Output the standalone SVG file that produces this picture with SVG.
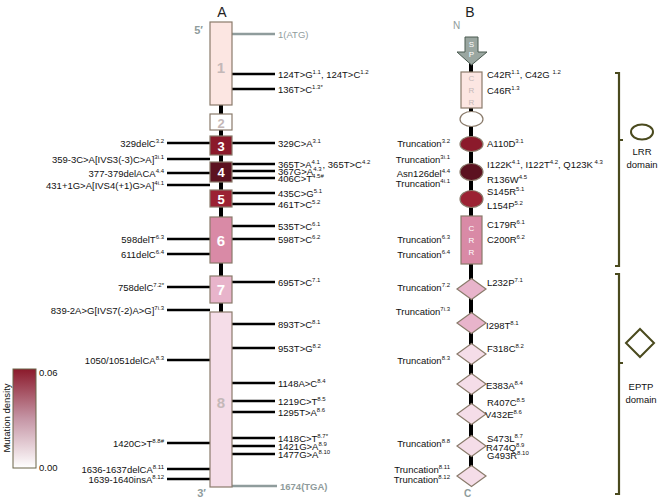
<svg xmlns="http://www.w3.org/2000/svg" width="660" height="498" viewBox="0 0 660 498">
<defs>
<linearGradient id="dens" x1="0" y1="0" x2="0" y2="1">
<stop offset="0" stop-color="#8b1a2b"/>
<stop offset="0.5" stop-color="#c595a5"/>
<stop offset="1" stop-color="#ffffff"/>
</linearGradient>
</defs>
<style>
text{font-family:"Liberation Sans",Arial,sans-serif}
.t{font-size:9.5px;fill:#111}
.s{font-size:6px}
.e{text-anchor:end}
.m{text-anchor:middle}
.g{fill:#8f9c9c}
.ln{stroke:#000;stroke-width:2.5;fill:none}
.gl{stroke:#8f9c9c;stroke-width:2.5;fill:none}
.sp{stroke:#000;stroke-width:4;fill:none}
.ex{stroke:#8a7b6b;stroke-width:1.2}
.num{font-size:15px;font-weight:bold;text-anchor:middle}
.w{fill:#fff}
.gn{fill:#c4b8b8}
.br{stroke:#4a4a1e;stroke-width:2.2;fill:none}
.hd{font-size:14px;fill:#222;text-anchor:middle}
</style>

<text class="hd" x="222" y="17">A</text>
<text class="hd" x="470" y="17">B</text>

<g id="connectors">
<line class="sp" x1="221" y1="24" x2="221" y2="486"/>
<line class="sp" x1="471" y1="60" x2="471" y2="472"/>
<line class="gl" x1="232" y1="34" x2="275" y2="34"/>
<line class="gl" x1="232" y1="486" x2="277" y2="486"/>
<g class="ln">
<line x1="232" y1="74" x2="275" y2="74"/>
<line x1="232" y1="89" x2="275" y2="89"/>
<line x1="232" y1="143" x2="275" y2="143"/>
<line x1="232" y1="164" x2="275" y2="164"/>
<line x1="232" y1="171" x2="275" y2="171"/>
<line x1="232" y1="178" x2="275" y2="178"/>
<line x1="232" y1="193" x2="275" y2="193"/>
<line x1="232" y1="204" x2="275" y2="204"/>
<line x1="232" y1="226" x2="275" y2="226"/>
<line x1="232" y1="239" x2="275" y2="239"/>
<line x1="232" y1="282" x2="275" y2="282"/>
<line x1="232" y1="324" x2="275" y2="324"/>
<line x1="232" y1="348" x2="275" y2="348"/>
<line x1="232" y1="383" x2="275" y2="383"/>
<line x1="232" y1="401" x2="275" y2="401"/>
<line x1="232" y1="412" x2="275" y2="412"/>
<line x1="232" y1="438" x2="275" y2="438"/>
<line x1="232" y1="446" x2="275" y2="446"/>
<line x1="232" y1="454" x2="275" y2="454"/>
<line x1="167" y1="143" x2="210" y2="143"/>
<line x1="167" y1="159" x2="210" y2="159"/>
<line x1="167" y1="173" x2="210" y2="173"/>
<line x1="167" y1="185" x2="210" y2="185"/>
<line x1="167" y1="239" x2="210" y2="239"/>
<line x1="167" y1="254" x2="210" y2="254"/>
<line x1="167" y1="287" x2="210" y2="287"/>
<line x1="167" y1="310" x2="210" y2="310"/>
<line x1="167" y1="360" x2="210" y2="360"/>
<line x1="167" y1="443" x2="210" y2="443"/>
<line x1="167" y1="469" x2="210" y2="469"/>
<line x1="167" y1="479" x2="210" y2="479"/>
</g>
</g>

<!-- Panel A exons -->
<text class="t g" x="203" y="34" style="font-size:11px;font-weight:bold" text-anchor="end">5′</text>
<text class="t g" x="206" y="497" style="font-size:11px;font-weight:bold" text-anchor="end">3′</text>
<g id="exon1"><rect class="ex" x="210" y="22" width="22" height="83" fill="#fce6e2"/><text class="num gn" x="221" y="73">1</text></g>
<g id="exon2"><rect class="ex" x="210" y="114" width="22" height="16" fill="#fff"/><text class="num gn" x="221" y="128" style="font-size:13px">2</text></g>
<g id="exon3"><rect class="ex" x="210" y="136" width="22" height="19" fill="#8b1a2b"/><text class="num w" x="221" y="151" style="font-size:13px">3</text></g>
<g id="exon4"><rect class="ex" x="210" y="162" width="22" height="20" fill="#5c1220"/><text class="num w" x="221" y="177" style="font-size:13px">4</text></g>
<g id="exon5"><rect class="ex" x="210" y="190" width="22" height="17" fill="#9b2233"/><text class="num w" x="221" y="204" style="font-size:13px">5</text></g>
<g id="exon6"><rect class="ex" x="210" y="217" width="22" height="46" fill="#d98aa6"/><text class="num w" x="221" y="246">6</text></g>
<g id="exon7"><rect class="ex" x="210" y="276" width="22" height="27" fill="#e8b4cb"/><text class="num w" x="221" y="295">7</text></g>
<g id="exon8"><rect class="ex" x="210" y="312" width="22" height="175" fill="#f5dde8"/><text class="num gn" x="221" y="408">8</text></g>

<!-- Panel A labels right -->
<g id="labelsA-right" class="t">
<text class="g" x="278" y="38">1(ATG)</text>
<text x="278" y="77.5">124T&gt;G<tspan class="s" dy="-4">1.1</tspan><tspan dy="4">, 124T&gt;C</tspan><tspan class="s" dy="-4">1.2</tspan></text>
<text x="278" y="92.5">136T&gt;C<tspan class="s" dy="-4">1.3*</tspan></text>
<text x="278" y="146.5">329C&gt;A<tspan class="s" dy="-4">3.1</tspan></text>
<text x="278" y="167.5">365T&gt;A<tspan class="s" dy="-4">4.1</tspan><tspan dy="4"> , 365T&gt;C</tspan><tspan class="s" dy="-4">4.2</tspan></text>
<text x="278" y="174.5">367G&gt;A<tspan class="s" dy="-4">4.3</tspan></text>
<text x="278" y="181.5">406C&gt;T<tspan class="s" dy="-4">4.5#</tspan></text>
<text x="278" y="196.5">435C&gt;G<tspan class="s" dy="-4">5.1</tspan></text>
<text x="278" y="207.5">461T&gt;C<tspan class="s" dy="-4">5.2</tspan></text>
<text x="278" y="229.5">535T&gt;C<tspan class="s" dy="-4">6.1</tspan></text>
<text x="278" y="242.5">598T&gt;C<tspan class="s" dy="-4">6.2</tspan></text>
<text x="278" y="285.5">695T&gt;C<tspan class="s" dy="-4">7.1</tspan></text>
<text x="278" y="327.5">893T&gt;C<tspan class="s" dy="-4">8.1</tspan></text>
<text x="278" y="351.5">953T&gt;G<tspan class="s" dy="-4">8.2</tspan></text>
<text x="278" y="386.5">1148A&gt;C<tspan class="s" dy="-4">8.4</tspan></text>
<text x="278" y="404.5">1219C&gt;T<tspan class="s" dy="-4">8.5</tspan></text>
<text x="278" y="415.5">1295T&gt;A<tspan class="s" dy="-4">8.6</tspan></text>
<text x="278" y="441.5">1418C&gt;T<tspan class="s" dy="-4">8.7*</tspan></text>
<text x="278" y="449.5">1421G&gt;A<tspan class="s" dy="-4">8.9</tspan></text>
<text x="278" y="457.5">1477G&gt;A<tspan class="s" dy="-4">8.10</tspan></text>
<text class="g" x="280" y="490" style="font-weight:bold">1674(TGA)</text>
</g>

<!-- Panel A labels left -->
<g id="labelsA-left" class="t e">
<text x="164" y="146.5">329delC<tspan class="s" dy="-4">3.2</tspan></text>
<text x="164" y="162.5">359-3C&gt;A[IVS3(-3)C&gt;A]<tspan class="s" dy="-4">3i.1</tspan></text>
<text x="164" y="176.5">377-379delACA<tspan class="s" dy="-4">4.4</tspan></text>
<text x="164" y="188.5">431+1G&gt;A[IVS4(+1)G&gt;A]<tspan class="s" dy="-4">4i.1</tspan></text>
<text x="164" y="242.5">598delT<tspan class="s" dy="-4">6.3</tspan></text>
<text x="164" y="257.5">611delC<tspan class="s" dy="-4">6.4</tspan></text>
<text x="164" y="290.5">758delC<tspan class="s" dy="-4">7.2*</tspan></text>
<text x="164" y="313.5">839-2A&gt;G[IVS7(-2)A&gt;G]<tspan class="s" dy="-4">7i.3</tspan></text>
<text x="164" y="363.5">1050/1051delCA<tspan class="s" dy="-4">8.3</tspan></text>
<text x="164" y="446.5">1420C&gt;T<tspan class="s" dy="-4">8.8#</tspan></text>
<text x="164" y="472.5">1636-1637delCA<tspan class="s" dy="-4">8.11</tspan></text>
<text x="164" y="482.5">1639-1640insA<tspan class="s" dy="-4">8.12</tspan></text>
</g>

<!-- Color bar -->
<g id="colorbar">
<rect x="13" y="369" width="23" height="99" fill="url(#dens)" stroke="#6b6548" stroke-width="1"/>
<text class="t" x="39" y="376">0.06</text>
<text class="t" x="39" y="471">0.00</text>
<text class="t m" transform="translate(10,418) rotate(-90)">Mutation density</text>
</g>

<!-- Panel B -->
<text class="t g" x="453" y="29" style="font-size:10px">N</text>
<text class="t g" x="464" y="497" style="font-size:10px;font-weight:bold">C</text>
<g id="sp"><path d="M465,37 H478 V52 H487 L471.5,65 L457,52 H465 Z" fill="#9aa6a0" stroke="#4a5a50" stroke-width="1"/><text class="w m" x="471.5" y="47" style="font-size:8px">S</text><text class="w m" x="471.5" y="57" style="font-size:8px">P</text></g>
<g id="crr1"><rect class="ex" x="461" y="72" width="21" height="36" fill="#fce6e2"/><text class="m gn" x="471.5" y="81" style="font-size:8px">C</text><text class="m gn" x="471.5" y="93" style="font-size:8px">R</text><text class="m gn" x="471.5" y="105" style="font-size:8px">R</text></g>
<g id="lrr0"><ellipse class="ex" cx="471.5" cy="119" rx="11.5" ry="7.5" fill="#fff"/></g>
<g id="lrr1"><ellipse class="ex" cx="471.5" cy="144" rx="11.5" ry="7.5" fill="#8b1a2b"/></g>
<g id="lrr2"><ellipse class="ex" cx="471.5" cy="172" rx="11.5" ry="8.5" fill="#5c1220"/></g>
<g id="lrr3"><ellipse class="ex" cx="471.5" cy="199" rx="11.5" ry="8.5" fill="#9b2233"/></g>
<g id="crr2"><rect class="ex" x="461" y="216" width="21" height="48" fill="#d98aa6"/><text class="m w" x="471.5" y="231" style="font-size:8px">C</text><text class="m w" x="471.5" y="243" style="font-size:8px">R</text><text class="m w" x="471.5" y="255" style="font-size:8px">R</text></g>
<g id="eptp1"><path class="ex" d="M457,289 L471.5,278.5 L486,289 L471.5,299.5 Z" fill="#e8b4cb"/></g>
<g id="eptp2"><path class="ex" d="M457,323 L471.5,312.5 L486,323 L471.5,333.5 Z" fill="#e8b4cb"/></g>
<g id="eptp3"><path class="ex" d="M457,354 L471.5,343.5 L486,354 L471.5,364.5 Z" fill="#f5dde8"/></g>
<g id="eptp4"><path class="ex" d="M457,384 L471.5,373.5 L486,384 L471.5,394.5 Z" fill="#f5dde8"/></g>
<g id="eptp5"><path class="ex" d="M457,414 L471.5,403.5 L486,414 L471.5,424.5 Z" fill="#f5dde8"/></g>
<g id="eptp6"><path class="ex" d="M457,446 L471.5,435.5 L486,446 L471.5,456.5 Z" fill="#f5dde8"/></g>
<g id="eptp7"><path class="ex" d="M457,476 L471.5,465.5 L486,476 L471.5,486.5 Z" fill="#f5dde8"/></g>

<g id="labelsB-right" class="t">
<text x="487" y="77.5">C42R<tspan class="s" dy="-4">1.1</tspan><tspan dy="4">, C42G </tspan><tspan class="s" dy="-4">1.2</tspan></text>
<text x="487" y="93.5">C46R<tspan class="s" dy="-4">1.3</tspan></text>
<text x="487" y="146.5">A110D<tspan class="s" dy="-4">3.1</tspan></text>
<text x="487" y="167.5">I122K<tspan class="s" dy="-4">4.1</tspan><tspan dy="4">, I122T</tspan><tspan class="s" dy="-4">4.2</tspan><tspan dy="4">, Q123K</tspan><tspan class="s" dy="-4"> 4.3</tspan></text>
<text x="487" y="182.5">R136W<tspan class="s" dy="-4">4.5</tspan></text>
<text x="487" y="194.5">S145R<tspan class="s" dy="-4">5.1</tspan></text>
<text x="487" y="208.5">L154P<tspan class="s" dy="-4">5.2</tspan></text>
<text x="487" y="227.5">C179R<tspan class="s" dy="-4">6.1</tspan></text>
<text x="487" y="242.5">C200R<tspan class="s" dy="-4">6.2</tspan></text>
<text x="487" y="285.5">L232P<tspan class="s" dy="-4">7.1</tspan></text>
<text x="486" y="328.5">I298T<tspan class="s" dy="-4">8.1</tspan></text>
<text x="487" y="351.5">F318C<tspan class="s" dy="-4">8.2</tspan></text>
<text x="486" y="388.5">E383A<tspan class="s" dy="-4">8.4</tspan></text>
<text x="487" y="405.5">R407C<tspan class="s" dy="-4">8.5</tspan></text>
<text x="485" y="417.5">V432E<tspan class="s" dy="-4">8.6</tspan></text>
<text x="487" y="441.5">S473L<tspan class="s" dy="-4">8.7</tspan></text>
<text x="486" y="450.5">R474Q<tspan class="s" dy="-4">8.9</tspan></text>
<text x="487" y="458.5">G493R<tspan class="s" dy="-4">8.10</tspan></text>
</g>

<g id="labelsB-left" class="t e">
<text x="450" y="146.5">Truncation<tspan class="s" dy="-4">3.2</tspan></text>
<text x="450" y="162.5">Truncation<tspan class="s" dy="-4">3i.1</tspan></text>
<text x="450" y="176.5">Asn126del<tspan class="s" dy="-4">4.4</tspan></text>
<text x="450" y="186.5">Truncation<tspan class="s" dy="-4">4i.1</tspan></text>
<text x="450" y="242.5">Truncation<tspan class="s" dy="-4">6.3</tspan></text>
<text x="450" y="257.5">Truncation<tspan class="s" dy="-4">6.4</tspan></text>
<text x="450" y="290.5">Truncation<tspan class="s" dy="-4">7.2</tspan></text>
<text x="450" y="314.5">Truncation<tspan class="s" dy="-4">7i.3</tspan></text>
<text x="450" y="363.5">Truncation<tspan class="s" dy="-4">8.3</tspan></text>
<text x="450" y="446.5">Truncation<tspan class="s" dy="-4">8.8</tspan></text>
<text x="450" y="472.5">Truncation<tspan class="s" dy="-4">8.11</tspan></text>
<text x="450" y="482.5">Truncation<tspan class="s" dy="-4">8.12</tspan></text>
</g>

<g id="lrr-domain">
<path class="br" d="M615,73 H619 V266 H615 M619,140 H623"/>
<ellipse cx="642" cy="132" rx="11" ry="7.5" fill="#fff" stroke="#4a4a1e" stroke-width="2"/>
<text class="t m" x="642" y="155">LRR</text>
<text class="t m" x="642" y="168">domain</text>
</g>
<g id="eptp-domain">
<path class="br" d="M615,274 H619 V494 H615 M619,363 H623"/>
<path d="M626,343 L640,329 L654,343 L640,357 Z" fill="#fff" stroke="#4a4a1e" stroke-width="2"/>
<text class="t m" x="641" y="390">EPTP</text>
<text class="t m" x="641" y="403">domain</text>
</g>
</svg>
